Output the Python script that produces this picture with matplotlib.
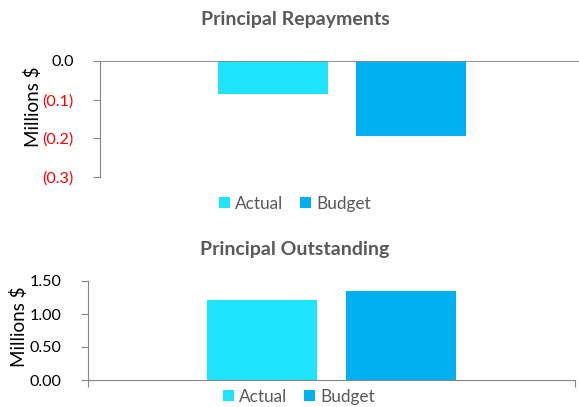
import matplotlib
matplotlib.use("Agg")
import matplotlib.pyplot as plt
import numpy as np

plt.rcParams['font.family'] = ['Lato', 'DejaVu Sans']

# data
series = ["Actual", "Budget"]
repayments = [-0.085, -0.193]
outstanding = [1.21, 1.35]
colors = ["#1FE2FC", "#00B0F0"]

rep_ticks = [0.0, -0.1, -0.2, -0.3]
out_ticks = [0.0, 0.5, 1.0, 1.5]

W, H = 579, 407
dpi = 100
fig = plt.figure(figsize=(W / dpi, H / dpi), dpi=dpi)

gray = "#868686"
title_col = "#595959"
offsets = [-0.1427, 0.1427]
bar_w = 0.226


def px_axes(left, top, right, bottom):
    return fig.add_axes([left / W, 1 - bottom / H, (right - left) / W, (bottom - top) / H])


def style(ax):
    for s in ["top", "right", "bottom", "left"]:
        ax.spines[s].set_visible(False)
    ax.spines["left"].set_visible(True)
    ax.spines["left"].set_color(gray)
    ax.tick_params(axis="y", length=5, color=gray, pad=14, labelsize=11.6)
    ax.set_xlim(-0.5, 0.5)
    ax.set_xticks([])


# top chart: principal repayments
ax1 = px_axes(100, 61, 584, 177)
style(ax1)
for i, name in enumerate(series):
    ax1.bar(offsets[i], repayments[i], width=bar_w, color=colors[i], label=name)
ax1.axhline(0, color=gray, lw=1.3)
ax1.set_ylim(-0.3, 0)
ax1.set_yticks(rep_ticks)
labels = ["0.0" if t == 0 else "(%.1f)" % abs(t) for t in rep_ticks]
ax1.set_yticklabels(labels)
for lab, t in zip(ax1.get_yticklabels(), rep_ticks):
    lab.set_color("black" if t == 0 else "#FF0000")

# bottom chart: principal outstanding
ax2 = px_axes(88, 281, 575, 380)
style(ax2)
for i, name in enumerate(series):
    ax2.bar(offsets[i], outstanding[i], width=bar_w, color=colors[i], label=name)
ax2.spines["bottom"].set_visible(True)
ax2.spines["bottom"].set_color(gray)
ax2.set_xticks([-0.5, 0.5])
ax2.set_xticklabels([])
ax2.tick_params(axis="x", length=5, color=gray)
ax2.set_ylim(0, 1.5)
ax2.set_yticks(out_ticks)
ax2.set_yticklabels(["%.2f" % t for t in out_ticks])

for ax, ty, ly, lx, lyc, title in [(ax1, 20, 204, 295, 107, "Principal Repayments"),
                                    (ax2, 250, 397, 299, 327, "Principal Outstanding")]:
    fig.text(295 / W, 1 - ty / H, title, ha="center", va="center",
             fontsize=14, fontweight="bold", color=title_col)
    fig.text((33 if ax is ax1 else 19) / W, 1 - lyc / H, "Millions $", rotation=90,
             ha="center", va="center", fontsize=13.5, color="black")
    leg = ax.legend(loc="center", bbox_to_anchor=(lx / W, 1 - ly / H),
                    bbox_transform=fig.transFigure, ncol=2, frameon=False,
                    handlelength=0.6, handleheight=0.6, handletextpad=0.3,
                    columnspacing=1.0, fontsize=12.4)
    for t in leg.get_texts():
        t.set_color(title_col)

fig.savefig("out.png", dpi=dpi)
